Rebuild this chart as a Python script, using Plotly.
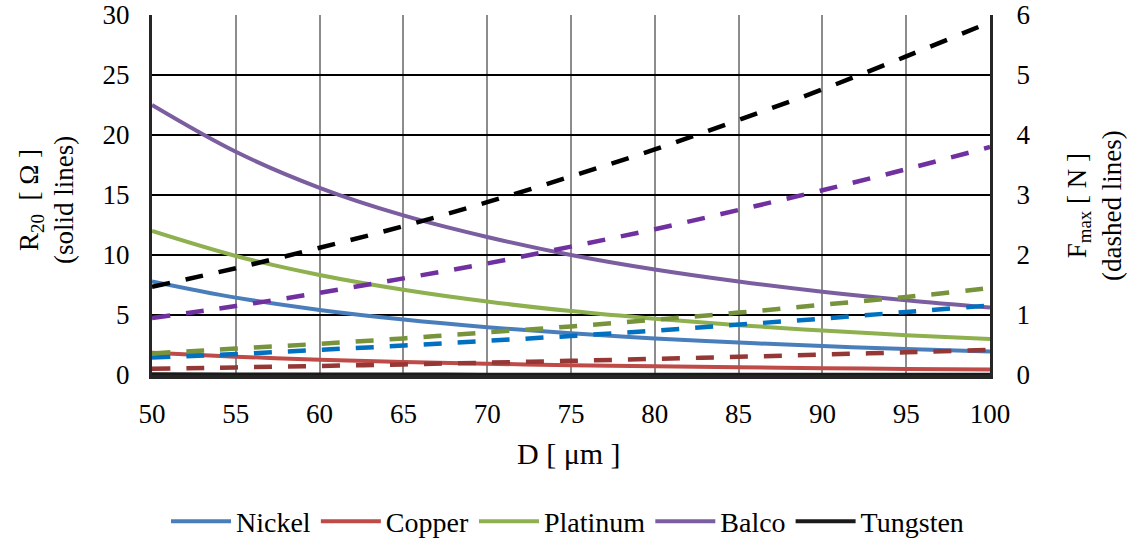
import plotly.graph_objects as go

# Wire diameter D [µm]
diameter = [50, 55, 60, 65, 70, 75, 80, 85, 90, 95, 100]

# Resistance at 20 °C, R20 [Ω] (solid lines, left axis)
r_nickel = [7.8, 6.45, 5.42, 4.62, 3.98, 3.47, 3.05, 2.70, 2.41, 2.16, 1.95]
r_copper = [1.85, 1.53, 1.28, 1.09, 0.94, 0.82, 0.72, 0.64, 0.57, 0.51, 0.46]
r_platinum = [12.0, 9.92, 8.33, 7.10, 6.12, 5.33, 4.69, 4.15, 3.70, 3.32, 3.0]
r_balco = [22.5, 18.6, 15.6, 13.3, 11.5, 10.0, 8.79, 7.79, 6.94, 6.23, 5.62]
r_tungsten = [0.06, 0.05, 0.042, 0.036, 0.031, 0.027, 0.023, 0.021, 0.019, 0.017, 0.015]

# Maximum tensile force, Fmax [N] (dashed lines, right axis)
f_nickel = [0.29, 0.35, 0.42, 0.49, 0.57, 0.65, 0.74, 0.84, 0.94, 1.05, 1.16]
f_copper = [0.105, 0.127, 0.151, 0.177, 0.206, 0.236, 0.269, 0.303, 0.340, 0.379, 0.42]
f_platinum = [0.36, 0.44, 0.52, 0.61, 0.71, 0.81, 0.92, 1.04, 1.17, 1.30, 1.45]
f_balco = [0.95, 1.15, 1.37, 1.61, 1.86, 2.14, 2.43, 2.75, 3.08, 3.43, 3.80]
f_tungsten = [1.47, 1.78, 2.12, 2.48, 2.88, 3.31, 3.76, 4.25, 4.76, 5.31, 5.88]

materials = ["Nickel", "Copper", "Platinum", "Balco", "Tungsten"]
resistances = [r_nickel, r_copper, r_platinum, r_balco, r_tungsten]
forces = [f_nickel, f_copper, f_platinum, f_balco, f_tungsten]
solid_colors = ["#4A7EBB", "#BE4B48", "#8EB04E", "#7B5E9F", "#1A1A1A"]
dashed_colors = ["#0070C0", "#953735", "#77933C", "#7030A0", "#000000"]

FONT = "Liberation Serif, Times New Roman, Times, serif"

fig = go.Figure()

# Dashed force curves first so the solid resistance curves sit on top
for name, vals, col in zip(materials, forces, dashed_colors):
    fig.add_trace(go.Scatter(
        x=diameter, y=vals, yaxis="y2", mode="lines", name=name + " Fmax",
        line=dict(color=col, width=4.5, dash="18px,16px", shape="spline"),
        showlegend=False, hoverinfo="skip",
    ))

for name, vals, col in zip(materials, resistances, solid_colors):
    fig.add_trace(go.Scatter(
        x=diameter, y=vals, mode="lines", name=name,
        line=dict(color=col, width=4, shape="spline"),
    ))

fig.update_layout(
    width=1135, height=540,
    margin=dict(l=152, r=145, t=15, b=165, autoexpand=False),
    paper_bgcolor="white", plot_bgcolor="white",
    font=dict(family=FONT, size=27, color="#000000"),
    showlegend=True,
    legend=dict(
        orientation="h", x=0.5, xanchor="center", xref="container",
        y=0.034, yanchor="middle", yref="container",
        font=dict(family=FONT, size=28, color="#000000"),
        itemwidth=60, tracegroupgap=0,
    ),
    xaxis=dict(
        range=[50, 100], dtick=5, tick0=50, automargin=False,
        showgrid=True, gridcolor="#8C8C8C", gridwidth=2,
        showline=True, linecolor="#262626", linewidth=4,
        ticks="", ticklabelstandoff=12, zeroline=False,
        tickfont=dict(family=FONT, size=27),
    ),
    yaxis=dict(
        range=[0, 30], dtick=5, tick0=0, automargin=False,
        showgrid=True, gridcolor="#000000", gridwidth=2,
        showline=True, linecolor="#262626", linewidth=3,
        ticks="", ticklabelstandoff=14, zeroline=False,
        tickfont=dict(family=FONT, size=27),
    ),
    yaxis2=dict(
        range=[0, 6], dtick=1, tick0=0, overlaying="y", side="right", automargin=False,
        showgrid=False, showline=True, linecolor="#262626", linewidth=3,
        ticks="", ticklabelstandoff=18, zeroline=False,
        tickfont=dict(family=FONT, size=27),
    ),
    annotations=[
        dict(text="D [ μm ]", xref="paper", yref="paper", x=0.4976, y=-0.217,
             xanchor="center", yanchor="middle", showarrow=False,
             font=dict(family=FONT, size=30)),
        dict(text="R<sub>20</sub>  [ Ω ]<br>(solid lines)", xref="paper", yref="paper",
             x=-0.1265, y=0.486, xanchor="center", yanchor="middle", textangle=-90,
             showarrow=False, font=dict(family=FONT, size=27)),
        dict(text="F<sub>max</sub> [ N ]<br>(dashed lines)", xref="paper", yref="paper",
             x=1.124, y=0.472, xanchor="center", yanchor="middle", textangle=-90,
             showarrow=False, font=dict(family=FONT, size=27)),
    ],
)

fig.write_html("out.html")
